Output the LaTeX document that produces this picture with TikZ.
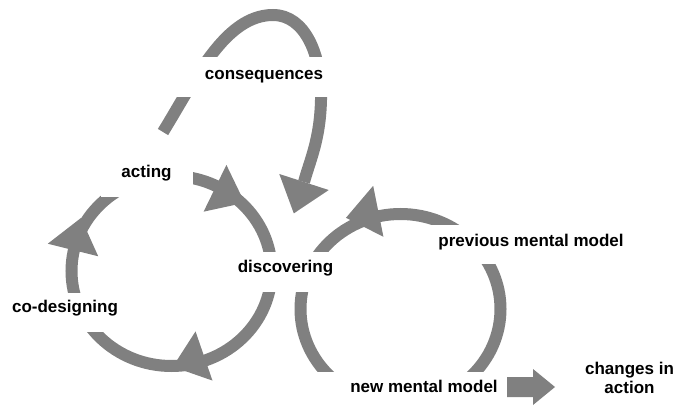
\documentclass[tikz,border=0pt]{standalone}
\usepackage{fontspec}
\setmainfont{Liberation Sans}
\definecolor{ringgray}{RGB}{128,128,128}
\begin{document}
\begin{tikzpicture}[x=1pt,y=1pt,
  ring/.style={draw=ringgray, line width=12pt},
  lbl/.style={font=\fontsize{17}{19}\selectfont\bfseries, text=black, fill=white, inner sep=0pt, anchor=base},
  plainlbl/.style={font=\fontsize{17}{19}\selectfont\bfseries, text=black, inner sep=0pt, align=center},
  headpic/.pic={\fill[ringgray] (0,26) -- (33,0) -- (0,-26) -- cycle;}
]
\useasboundingbox (0,0) rectangle (680,405);
% cycles
\draw[ring] (171.5,134) ellipse [x radius=100, y radius=95];
\draw[ring] (400.5,96) ellipse [x radius=100, y radius=95];
% consequences loop
\draw[ring] (163,273) .. controls (195,325) and (225,390) .. (273,390)
  .. controls (305,390) and (322,350) .. (321,305)
  .. controls (320,265) and (310,245) .. (304,223);
% labels (white boxes open the rings)
\node[lbl, text height=22.7pt, text depth=17.3pt, minimum width=178pt] (cons) at (264,325.6) {consequences};
\node[lbl, text height=27.4pt, text depth=19.6pt, minimum width=92pt] (act) at (146.5,227.6) {acting};
\node[lbl, text height=19.1pt, text depth=19.3pt, minimum width=120pt] (codes) at (65,92.6) {co-designing};
\node[lbl, text height=20.7pt, text depth=19.3pt, minimum width=120pt] (disc) at (285.5,132.6) {discovering};
\node[lbl, text height=21.4pt, text depth=17.6pt, minimum width=240pt] (prev) at (531,158.6) {previous mental model};
\node[lbl, text height=20.7pt, text depth=15pt, minimum width=216pt] (newm) at (424,12.6) {new mental model};
\node[plainlbl] (chg) at (629.5,27) {changes in\\action};
% arrowheads
\pic[rotate=76] at (73,155) {headpic};
\pic[rotate=-26] at (215,216.7) {headpic};
\pic[rotate=199] at (204,49) {headpic};
\pic[rotate=191.4] at (378.3,193.7) {headpic};
\pic[rotate=252] at (304,223) {headpic};
% block arrow
\fill[ringgray] (507,28) -- (533,28) -- (533,36) -- (555,18) -- (533,0) -- (533,8) -- (507,8) -- cycle;
\end{tikzpicture}
\end{document}
